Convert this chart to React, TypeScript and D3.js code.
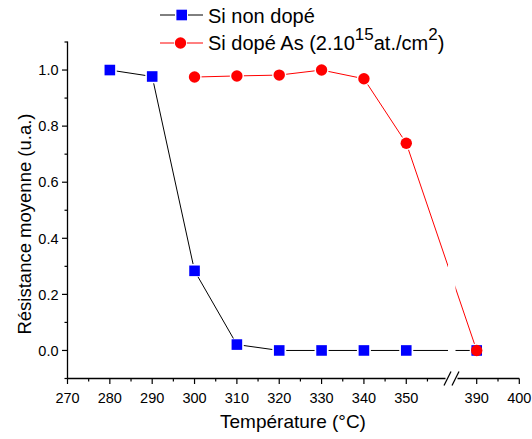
import React from "react";
import * as d3 from "d3";

const temps1 = [280, 290, 300, 310, 320, 330, 340, 350, 390];
const nonDope = [1.0, 0.977, 0.284, 0.021, 0, 0, 0, 0, 0];
const temps2 = [300, 310, 320, 330, 340, 350, 390];
const dopeAs = [0.975, 0.979, 0.982, 1.0, 0.969, 0.739, 0];
const xMajor = [270, 280, 290, 300, 310, 320, 330, 340, 350, 390, 400];
const xMinor = [275, 285, 295, 305, 315, 325, 335, 345, 355, 395];
const yMajor = [0, 0.2, 0.4, 0.6, 0.8, 1.0];
const yMinor = [-0.1, 0.1, 0.3, 0.5, 0.7, 0.9, 1.1];

const W = 532, H = 439;
const FONT = "'Liberation Sans', Arial, sans-serif";

const x = d3.scaleLinear().domain([270, 360.8, 384.2, 400]).range([67.5, 452, 452, 519.3]);
const y = d3.scaleLinear().domain([-0.1, 1.1]).range([378.5, 42]);

function segments(xs: number[], ys: number[], gap: number) {
  const out: string[] = [];
  for (let i = 0; i < xs.length - 1; i++) {
    const x1 = x(xs[i]), y1 = y(ys[i]), x2 = x(xs[i + 1]), y2 = y(ys[i + 1]);
    const dx = x2 - x1, dy = y2 - y1;
    const L = Math.hypot(dx, dy);
    if (L <= 2 * gap) continue;
    const ux = dx / L, uy = dy / L;
    const p = d3.path();
    p.moveTo(x1 + ux * gap, y1 + uy * gap);
    p.lineTo(x2 - ux * gap, y2 - uy * gap);
    out.push(p.toString());
  }
  return out;
}

export default function App() {
  const y0 = y(-0.1);
  const xL = x(270);
  const xR = x(400);
  const bx = 451.5;
  return (
    <svg width={W} height={H} style={{ position: "absolute", left: 0, top: 0, background: "#fff" }}>
      <defs>
        <clipPath id="brk">
          <rect x={0} y={0} width={448} height={H} />
          <rect x={455.5} y={0} width={W - 455.5} height={H} />
        </clipPath>
      </defs>
      {/* axes */}
      <line x1={xL} y1={41.5} x2={xL} y2={y0} stroke="#000" strokeWidth={1.3} />
      <line x1={xL} y1={y0} x2={bx - 6} y2={y0} stroke="#000" strokeWidth={1.3} />
      <line x1={bx + 6} y1={y0} x2={xR} y2={y0} stroke="#000" strokeWidth={1.3} />
      <line x1={bx - 7.5} y1={y0 + 7} x2={bx - 0.5} y2={y0 - 7} stroke="#000" strokeWidth={1.3} />
      <line x1={bx + 0.5} y1={y0 + 7} x2={bx + 7.5} y2={y0 - 7} stroke="#000" strokeWidth={1.3} />
      {xMajor.map((t) => (
        <g key={"xm" + t}>
          <line x1={x(t)} x2={x(t)} y1={y0} y2={y0 + 5.5} stroke="#000" strokeWidth={1.2} />
          <text x={x(t)} y={402.5} textAnchor="middle" fontFamily={FONT} fontSize={14.5} fill="#000">{t}</text>
        </g>
      ))}
      {xMinor.map((t) => (
        <line key={"xn" + t} x1={x(t)} x2={x(t)} y1={y0} y2={y0 + 3} stroke="#000" strokeWidth={1.2} />
      ))}
      {yMajor.map((t) => (
        <g key={"ym" + t}>
          <line x1={xL - 5.5} x2={xL} y1={y(t)} y2={y(t)} stroke="#000" strokeWidth={1.2} />
          <text x={58.5} y={y(t)} dy="0.36em" textAnchor="end" fontFamily={FONT} fontSize={14.5} fill="#000">{t.toFixed(1)}</text>
        </g>
      ))}
      {yMinor.map((t) => (
        <line key={"yn" + t} x1={xL - 3} x2={xL} y1={y(t)} y2={y(t)} stroke="#000" strokeWidth={1.2} />
      ))}
      <text x={293} y={428} textAnchor="middle" fontFamily={FONT} fontSize={19} fill="#000">Température (°C)</text>
      <text transform="translate(31,224) rotate(-90)" textAnchor="middle" fontFamily={FONT} fontSize={18.5} fill="#000">Résistance moyenne (u.a.)</text>

      {/* series */}
      <g clipPath="url(#brk)">
        {segments(temps1, nonDope, 7).map((d, i) => (
          <path key={"s1" + i} d={d} stroke="#000" strokeWidth={1} fill="none" />
        ))}
        {segments(temps2, dopeAs, 7).map((d, i) => (
          <path key={"s2" + i} d={d} stroke="#ff0000" strokeWidth={1} fill="none" />
        ))}
      </g>
      {temps1.map((t, i) => (
        <rect key={"p1" + t} x={x(t) - 5.3} y={y(nonDope[i]) - 5.3} width={10.6} height={10.6} fill="#0000ff" />
      ))}
      {temps2.map((t, i) => (
        <circle key={"p2" + t} cx={x(t)} cy={y(dopeAs[i])} r={5.7} fill="#ff0000" />
      ))}

      {/* legend */}
      <line x1={160} x2={175} y1={15} y2={15} stroke="#000" strokeWidth={1} />
      <line x1={188} x2={203} y1={15} y2={15} stroke="#000" strokeWidth={1} />
      <rect x={181.7 - 5.3} y={15 - 5.3} width={10.6} height={10.6} fill="#0000ff" />
      <text x={208} y={22.5} fontFamily={FONT} fontSize={20} fill="#000">Si non dopé</text>
      <line x1={160} x2={174} y1={43} y2={43} stroke="#ff0000" strokeWidth={1} />
      <line x1={187} x2={203} y1={43} y2={43} stroke="#ff0000" strokeWidth={1} />
      <circle cx={180.5} cy={43} r={5.7} fill="#ff0000" />
      <text x={208} y={50} fontFamily={FONT} fontSize={20} fill="#000">
        Si dopé As (2.10
        <tspan fontSize={17} dy={-10}>15</tspan>
        <tspan dy={10}>at./cm</tspan>
        <tspan fontSize={17} dy={-10}>2</tspan>
        <tspan dy={10}>)</tspan>
      </text>
    </svg>
  );
}
